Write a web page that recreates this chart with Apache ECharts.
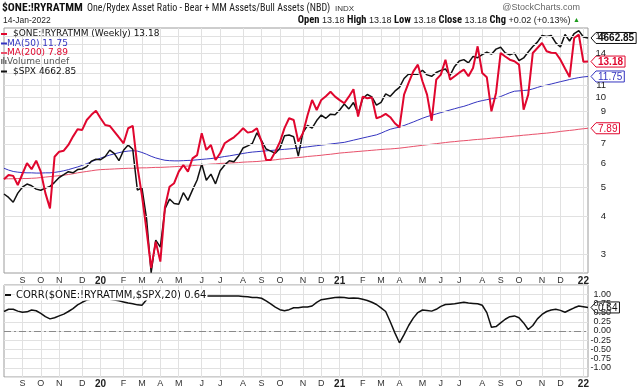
<!DOCTYPE html>
<html><head><meta charset="utf-8">
<script src="https://cdn.jsdelivr.net/npm/echarts@6/dist/echarts.min.js"></script>
<style>html,body{margin:0;padding:0;background:#fff}#c{width:640px;height:392px}</style>
</head><body><div id="c"></div>
<script>
// ---------- data ----------
const firstWeek = '2019-08-09';   // first weekly bar (Friday)
const weekCount = 128;
const ryrat = [5.33,5.51,5.47,5.10,5.55,6.03,5.76,6.15,5.65,4.79,
 4.26,6.34,6.59,6.64,6.94,7.40,7.83,7.79,8.41,8.75,
 9.03,8.52,8.09,8.03,7.69,7.35,7.03,7.89,8.03,5.90,
 4.70,3.60,2.69,3.30,2.83,4.30,5.03,5.17,5.65,5.95,
 5.65,6.26,6.42,7.59,6.68,6.94,6.18,6.51,7.03,7.20,
 7.36,7.60,7.89,7.63,7.69,7.89,7.12,6.18,6.18,6.59,
 7.10,7.90,8.52,8.41,7.12,7.59,8.70,9.81,9.08,9.81,
 10.10,10.45,10.06,9.80,9.56,10.06,10.65,8.63,10.06,9.94,
 10.00,8.52,8.63,8.81,8.59,8.20,7.95,10.22,11.20,12.20,
 12.87,11.33,10.22,8.36,11.47,11.92,13.37,11.47,11.77,12.10,
 12.38,11.77,12.55,14.82,12.07,11.68,8.99,10.35,14.08,13.70,
 13.37,13.21,12.87,9.10,10.22,14.08,14.63,15.20,14.27,14.10,
 14.08,13.37,12.50,11.70,15.80,16.21,13.16,13.18];
const ma50 = [5.80,5.72,5.66,5.63,5.61,5.60,5.60,5.59,5.59,5.60,
 5.60,5.62,5.65,5.69,5.74,5.80,5.86,5.93,6.01,6.10,
 6.19,6.27,6.35,6.42,6.48,6.54,6.59,6.62,6.64,6.62,
 6.55,6.46,6.36,6.28,6.22,6.17,6.15,6.14,6.14,6.15,
 6.16,6.17,6.19,6.21,6.23,6.25,6.28,6.31,6.35,6.38,
 6.42,6.46,6.50,6.54,6.57,6.59,6.61,6.63,6.65,6.67,
 6.69,6.71,6.73,6.75,6.78,6.81,6.84,6.87,6.90,6.93,
 6.96,6.99,7.02,7.05,7.08,7.14,7.20,7.26,7.32,7.38,
 7.44,7.50,7.60,7.72,7.83,7.90,7.96,8.06,8.17,8.28,
 8.40,8.52,8.63,8.72,8.81,8.90,8.99,9.08,9.17,9.26,
 9.34,9.45,9.57,9.68,9.76,9.83,9.89,9.94,10.07,10.22,
 10.37,10.49,10.52,10.55,10.58,10.68,10.80,10.92,11.00,11.09,
 11.19,11.29,11.38,11.48,11.57,11.65,11.71,11.75];
const ma200 = [5.35,5.35,5.35,5.36,5.36,5.36,5.37,5.38,5.40,5.42,
 5.44,5.46,5.48,5.50,5.53,5.56,5.60,5.63,5.66,5.69,
 5.72,5.74,5.75,5.76,5.77,5.78,5.79,5.80,5.80,5.81,
 5.82,5.82,5.83,5.84,5.84,5.85,5.86,5.87,5.88,5.89,
 5.90,5.92,5.94,5.95,5.97,5.99,6.00,6.02,6.03,6.04,
 6.05,6.06,6.08,6.09,6.10,6.11,6.13,6.15,6.17,6.19,
 6.22,6.24,6.26,6.28,6.30,6.32,6.35,6.37,6.39,6.41,
 6.44,6.46,6.49,6.52,6.54,6.56,6.58,6.60,6.62,6.64,
 6.66,6.68,6.70,6.72,6.73,6.75,6.77,6.80,6.83,6.86,
 6.89,6.92,6.95,6.98,7.01,7.04,7.07,7.10,7.12,7.15,
 7.17,7.19,7.22,7.24,7.26,7.28,7.31,7.33,7.35,7.38,
 7.40,7.43,7.45,7.48,7.50,7.53,7.55,7.58,7.60,7.63,
 7.66,7.70,7.73,7.76,7.79,7.83,7.86,7.89];
const spx = [2918.65,2888.68,2847.11,2926.46,2978.71,3007.39,2992.07,2961.79,2952.01,2970.27,
 2986.20,3022.55,3066.91,3093.08,3120.46,3110.29,3140.98,3145.91,3168.80,3221.22,
 3240.02,3234.85,3265.35,3329.62,3295.47,3225.52,3327.71,3380.16,3337.75,2954.22,
 2972.37,2711.02,2304.92,2541.47,2488.65,2789.82,2874.56,2836.74,2830.71,2929.80,
 2863.70,2955.45,3044.31,3193.93,3041.31,3097.74,3009.05,3130.01,3185.04,3224.73,
 3215.63,3271.12,3351.28,3372.85,3397.16,3508.01,3426.96,3340.97,3319.47,3298.46,
 3348.42,3477.13,3483.81,3465.39,3269.96,3509.44,3585.15,3557.54,3638.35,3699.12,
 3663.46,3709.41,3703.06,3756.07,3824.68,3768.25,3841.47,3714.24,3886.83,3934.83,
 3906.71,3811.15,3841.94,3943.34,3913.10,3974.54,4019.87,4128.80,4185.47,4180.17,
 4181.17,4232.60,4173.85,4155.86,4204.11,4229.89,4247.44,4166.45,4280.70,4352.34,
 4369.55,4327.16,4411.79,4395.26,4436.52,4468.00,4441.67,4509.37,4535.43,4458.58,
 4432.99,4455.48,4357.04,4391.34,4471.37,4544.90,4605.38,4697.53,4682.85,4697.96,
 4594.62,4538.43,4712.02,4620.64,4725.79,4766.18,4677.03,4662.85];
const corr = [0.53,0.59,0.59,0.54,0.51,0.52,0.57,0.55,0.48,0.39,
 0.33,0.36,0.41,0.46,0.53,0.61,0.71,0.78,0.84,0.87,
 0.89,0.90,0.88,0.86,0.84,0.82,0.79,0.76,0.74,0.71,
 0.70,0.85,0.92,0.94,0.95,0.96,0.95,0.94,0.95,0.96,
 0.95,0.94,0.95,0.95,0.95,0.95,0.95,0.95,0.95,0.95,
 0.95,0.95,0.94,0.93,0.91,0.91,0.89,0.82,0.74,0.65,
 0.58,0.55,0.58,0.63,0.63,0.65,0.65,0.68,0.78,0.85,
 0.87,0.89,0.91,0.92,0.91,0.89,0.90,0.89,0.86,0.83,
 0.78,0.72,0.63,0.53,0.25,-0.05,-0.32,-0.10,0.15,0.35,
 0.50,0.57,0.56,0.54,0.59,0.67,0.72,0.73,0.74,0.76,
 0.78,0.76,0.75,0.74,0.70,0.50,0.10,0.12,0.22,0.32,
 0.39,0.41,0.36,0.22,0.04,0.15,0.33,0.45,0.53,0.57,
 0.59,0.56,0.51,0.57,0.63,0.68,0.66,0.64];
const mainTicks = [3,4,5,6,7,8,9,10,11,12,13,14,15,16];
const mainTickLabels = [3,4,5,6,7,9,10,11,14,16];
const monthLetters = ['J','F','M','A','M','J','J','A','S','O','N','D'];

// ---------- categories (weekly dates) ----------
const weeks = [];
{ let t = Date.parse(firstWeek + 'T00:00:00Z');
  for (let i = 0; i < weekCount; i++) { weeks.push(new Date(t).toISOString().slice(0,10)); t += 7*86400000; } }
const isMonthStart = (i) => i > 0 && weeks[i].slice(5,7) !== weeks[i-1].slice(5,7);
const fmtX = (v) => { const m = +v.slice(5,7); return m === 1 ? '{y|' + v.slice(2,4) + '}' : monthLetters[m-1]; };

// ---------- layout ----------
const GL = 4, GR = 588, MT = 28, MB = 273, LT = 285, LB = 377;
const gridCol = '#e1e1e1', borderCol = '#9c9c9c';
const RED = '#e0062e', BLUE = '#3434c0', RED2 = '#e8506a';
const F = '"Liberation Sans", Arial, sans-serif';
const FD = '"DejaVu Sans", Verdana, sans-serif';

const xAxisBase = (gi, margin) => ({
  type:'category', gridIndex:gi, data:weeks, boundaryGap:false,
  axisLine:{show:false}, axisTick:{show:false},
  axisLabel:{interval:isMonthStart, formatter:fmtX, fontSize:9, fontFamily:F, color:'#333', margin:margin,
    rich:{y:{fontWeight:'bold', fontSize:10, fontFamily:F, color:'#222'}}},
  splitLine:{show:true, interval:isMonthStart, lineStyle:{color:gridCol, width:1}}
});

const chart = echarts.init(document.getElementById('c'), null, {renderer:'canvas'});
const option = {
  animation:false, backgroundColor:'#fff',
  grid:[
    {left:GL, top:MT, width:GR-GL, height:MB-MT, show:true, borderColor:borderCol, borderWidth:1, backgroundColor:'transparent', outerBoundsMode:'none'},
    {left:GL, top:LT, width:GR-GL, height:LB-LT, show:true, borderColor:borderCol, borderWidth:1, backgroundColor:'transparent', outerBoundsMode:'none'}
  ],
  xAxis:[xAxisBase(0,3), xAxisBase(1,2)],
  yAxis:[
    {type:'log', gridIndex:0, min:2.592, max:17.06, axisLine:{show:false}, axisTick:{show:false}, axisLabel:{show:false}, splitLine:{show:false}},
    {type:'log', gridIndex:0, min:2302.3, max:4804.7, show:false},
    {type:'value', gridIndex:1, position:'right', min:-1.25, max:1.25, interval:0.25,
      axisLine:{show:false}, axisTick:{show:false},
      axisLabel:{formatter:v => Math.abs(v) > 1.001 ? '' : v.toFixed(2), fontSize:9, fontFamily:F, color:'#222', align:'right', margin:23},
      splitLine:{show:true, lineStyle:{color:gridCol, width:1}}}
  ],
  series:[
    {type:'line', xAxisIndex:0, yAxisIndex:0, data:ryrat, symbol:'none', lineStyle:{opacity:0}, silent:true, z:1,
     markLine:{silent:true, symbol:['none','none'], animation:false,
       lineStyle:{color:gridCol, width:1, type:'solid'},
       label:{show:true, position:'end', distance:18, align:'right', fontSize:9.5, fontFamily:F, color:'#222'},
       data: mainTicks.map(v => ({yAxis:v, label:{show:mainTickLabels.includes(v), formatter:String(v)}}))}},
    {type:'line', xAxisIndex:0, yAxisIndex:0, data:ma200, symbol:'none', lineStyle:{color:RED2, width:1}, z:2, silent:true},
    {type:'line', xAxisIndex:0, yAxisIndex:0, data:ma50, symbol:'none', lineStyle:{color:BLUE, width:1}, z:3, silent:true},
    {type:'line', xAxisIndex:0, yAxisIndex:1, data:spx, symbol:'none', lineStyle:{color:'#111', width:1.5}, z:4, silent:true},
    {type:'line', xAxisIndex:0, yAxisIndex:0, data:ryrat, symbol:'none', lineStyle:{color:RED, width:2}, z:5, silent:true},
    {type:'line', xAxisIndex:1, yAxisIndex:2, data:corr, symbol:'none', lineStyle:{color:'#111', width:1.5}, z:5, silent:true,
     markLine:{silent:true, symbol:['none','none'], animation:false, label:{show:false},
       lineStyle:{color:'#8a8a8a', width:1, type:[7,3,2,3]}, data:[{yAxis:0}]}}
  ]
};
chart.setOption(option);

// ---------- texts & price tags ----------
const ctx = document.createElement('canvas').getContext('2d');
// pick a font size so that a header text spans the width it has in the reference
function fitFont(text, weight, families, target, maxSize) {
  ctx.font = weight + ' 20px ' + families;
  const w = ctx.measureText(text).width;
  const size = Math.min(maxSize, Math.round(20 * target / w * 10) / 10);
  return weight + ' ' + size + 'px ' + families;
}
const NARROW = '"Liberation Sans Narrow", "Arial Narrow", "Roboto Condensed", "Liberation Sans", Arial, sans-serif';

function tag(value, axis, text, color, bold) {
  const y = chart.convertToPixel({yAxisIndex:axis}, value);
  const font = (bold ? 'bold ' : '') + '10px ' + F;
  ctx.font = font;
  const w = ctx.measureText(text).width + 4, h = 11, x = GR + 3;
  return {type:'group', x:x, y:y, z:200, children:[
    {type:'polygon', shape:{points:[[0,0],[5,-h/2],[5+w,-h/2],[5+w,h/2],[5,h/2]]}, style:{fill:'#fff', stroke:color, lineWidth:1}},
    {type:'text', x:7, y:0.5, style:{text:text, fill:color, font:font, verticalAlign:'middle'}}
  ]};
}
const T = (x, y, text, font, fill, extra) => Object.assign({type:'text', x:x, y:y, z:150,
  style:Object.assign({text:text, font:font, fill:fill, verticalAlign:'middle'}, extra || {})});
const L = (x1, x2, y, color, w) => ({type:'line', z:150, shape:{x1:x1, y1:y, x2:x2, y2:y}, style:{stroke:color, lineWidth:w}});

const titleText = '$ONE:!RYRATMM';
const subText = 'One/Rydex Asset Ratio - Bear + MM Assets/Bull Assets (NBD)';
const last = weekCount - 1;
const graphics = [
  T(2, 8, titleText, fitFont(titleText, 'bold', NARROW, 81, 14), '#111'),
  T(87, 8, subText, fitFont(subText, 'normal', NARROW, 243, 11), '#222'),
  T(335, 8.5, 'INDX', '8px ' + F, '#333'),
  T(580, 8, '@StockCharts.com', '9px ' + F, '#666', {align:'right'}),
  T(3, 20.5, '14-Jan-2022', '8.5px ' + F, '#222'),
  T(580, 20.5, '{b|Open} 13.18 {b|High} 13.18 {b|Low} 13.18 {b|Close} 13.18 {b|Chg} +0.02 (+0.13%) {g|▲}', '9px ' + F, '#222',
    {align:'right', rich:{b:{font:'bold 10.5px ' + NARROW, fill:'#111'}, g:{font:'7px ' + F, fill:'#1a9a1a'}}}),
  // legend
  L(1, 7, 34, RED, 2),
  T(13, 34, '$ONE:!RYRATMM (Weekly) ' + ryrat[last].toFixed(2), '9px ' + FD, '#111'),
  L(1, 7, 43.5, BLUE, 2),
  T(7, 43.5, 'MA(50) ' + ma50[last].toFixed(2), '9px ' + FD, BLUE),
  L(1, 7, 53, RED2, 2),
  T(7, 53, 'MA(200) ' + ma200[last].toFixed(2), '9px ' + FD, RED),
  {type:'rect', z:150, shape:{x:1, y:59, width:1.5, height:5}, style:{fill:'#777'}},
  {type:'rect', z:150, shape:{x:3, y:57, width:1.5, height:7}, style:{fill:'#777'}},
  {type:'rect', z:150, shape:{x:5, y:60, width:1.5, height:4}, style:{fill:'#777'}},
  T(7, 62, 'Volume undef', '9px ' + FD, '#555'),
  L(1, 7, 71.5, '#111', 2),
  T(13, 71.5, '$SPX ' + spx[last].toFixed(2), '9px ' + FD, '#111'),
  // lower panel legend
  L(5, 11, 295, '#111', 2),
  T(15, 295, 'CORR($ONE:!RYRATMM,$SPX,20) ' + corr[last].toFixed(2), '10px ' + FD, '#111', {backgroundColor:'#fff', padding:[1,1,0,1]}),
  // price tags
  tag(ma200[last], 0, ma200[last].toFixed(2), RED, false),
  tag(ma50[last], 0, ma50[last].toFixed(2), BLUE, false),
  tag(ryrat[last], 0, ryrat[last].toFixed(2), RED, true),
  tag(spx[last], 1, spx[last].toFixed(2), '#111', true),
  tag(corr[last], 2, corr[last].toFixed(2), '#111', false)
];
chart.setOption({graphic:graphics});
</script></body></html>
